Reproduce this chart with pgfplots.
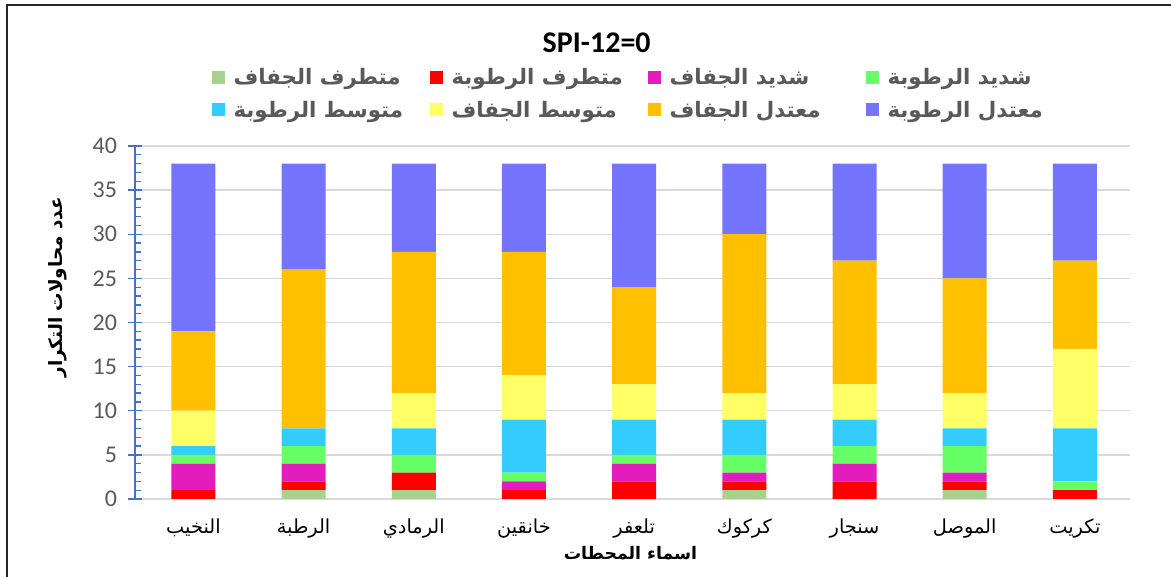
\documentclass[border=0pt]{standalone}
\usepackage{pgfplots}
\pgfplotsset{compat=1.18}
\usepackage{fontspec}
\setmainfont{Carlito}
\newfontfamily\arabicfont[Script=Arabic]{DejaVu Sans}
\TeXXeTstate=1
\newcommand\arb[1]{{\arabicfont\beginR #1\endR}}
\definecolor{cpaleg}{HTML}{A9D18E}
\definecolor{cred}{HTML}{FF0000}
\definecolor{cmag}{HTML}{E31CBE}
\definecolor{cgreen}{HTML}{66FF66}
\definecolor{ccyan}{HTML}{33CCFF}
\definecolor{cyellow}{HTML}{FFFF66}
\definecolor{corange}{HTML}{FFC000}
\definecolor{cpurple}{HTML}{7474FF}
\definecolor{axisblue}{HTML}{4472C4}
\definecolor{gridgray}{HTML}{D9D9D9}
\definecolor{tickgray}{HTML}{595959}
\newcommand\lgd[1]{\makebox[149.75pt][l]{\hspace*{4.5pt}\hbox{{\arabicfont\beginR #1\endR}}}}
\begin{document}
\begin{tikzpicture}
\path[use as bounding box] (0,0) rectangle (878.25pt,432.75pt);
\draw[line width=1.4pt, black!85] (5.25pt,-10pt) -- (5.25pt,429pt) -- (890pt,429pt);
\begin{axis}[
  at={(101.25pt,58.5pt)}, anchor=south west,
  scale only axis, width=746.25pt, height=264.75pt,
  ybar stacked, bar width=33pt,
  xmin=-0.53, xmax=8.5, ymin=0, ymax=40,
  xtick={0,...,8},
  xticklabels={\arb{النخيب},\arb{الرطبة},\arb{الرمادي},\arb{خانقين},\arb{تلعفر},\arb{كركوك},\arb{سنجار},\arb{الموصل},\arb{تكريت}},
  xticklabel style={font=\fontsize{14.5}{16}\selectfont, text=black, yshift=-11pt},
  x axis line style={draw=none},
  xtick style={draw=none},
  axis y line*=left,
  y axis line style={axisblue, line width=1.1pt},
  ytick={0,5,...,40},
  minor y tick num=4,
  tick align=inside,
  major tick length=4.5pt, minor tick length=4.5pt,
  ytick style={axisblue, line width=1pt},
  minor y tick style={axisblue, line width=1pt},
  extra y ticks={0,5,...,40},
  extra y tick labels={},
  extra y tick style={tick align=center, major tick length=10pt, grid=none},
  yticklabel style={font=\fontsize{18}{20}\selectfont, text=tickgray, xshift=-10pt},
  /pgf/number format/assume math mode=true,
  ymajorgrids, grid style={gridgray, line width=1.1pt},
  xlabel={{\arabicfont\bfseries\beginR اسماء المحطات\endR}},
  xlabel style={font=\fontsize{13}{15}\selectfont, at={(axis description cs:0.498,-0.153)}, anchor=center},
  ylabel={{\arabicfont\bfseries\beginR عدد محاولات التكرار\endR}},
  ylabel style={font=\fontsize{13.8}{15}\selectfont, at={(axis description cs:-0.078,0.6)}, anchor=center, rotate=0},
  title={\bfseries SPI-12=0},
  title style={font=\fontsize{22.5}{24}\selectfont, at={(axis description cs:0.464,1.27)}, anchor=center},
  legend columns=4,
  legend style={at={(axis description cs:0.073,1.235)}, anchor=north west, draw=none, fill=none,
    font=\fontsize{16}{18}\selectfont\bfseries, text=tickgray,
    /tikz/every even column/.append style={column sep=0pt},
    row sep=6.5pt},
  legend image code/.code={\fill[#1] (0pt,-4.9pt) rectangle (9.75pt,4.9pt);},
  every axis plot/.append style={draw=none},
]
\addplot+[fill=cpaleg] coordinates {(0,0) (1,1) (2,1) (3,0) (4,0) (5,1) (6,0) (7,1) (8,0)};
\addlegendentry{\lgd{متطرف الجفاف}}
\addplot+[fill=cred] coordinates {(0,1) (1,1) (2,2) (3,1) (4,2) (5,1) (6,2) (7,1) (8,1)};
\addlegendentry{\lgd{متطرف الرطوبة}}
\addplot+[fill=cmag] coordinates {(0,3) (1,2) (2,0) (3,1) (4,2) (5,1) (6,2) (7,1) (8,0)};
\addlegendentry{\lgd{شديد الجفاف}}
\addplot+[fill=cgreen] coordinates {(0,1) (1,2) (2,2) (3,1) (4,1) (5,2) (6,2) (7,3) (8,1)};
\addlegendentry{\lgd{شديد الرطوبة}}
\addplot+[fill=ccyan] coordinates {(0,1) (1,2) (2,3) (3,6) (4,4) (5,4) (6,3) (7,2) (8,6)};
\addlegendentry{\lgd{متوسط الرطوبة}}
\addplot+[fill=cyellow] coordinates {(0,4) (1,0) (2,4) (3,5) (4,4) (5,3) (6,4) (7,4) (8,9)};
\addlegendentry{\lgd{متوسط الجفاف}}
\addplot+[fill=corange] coordinates {(0,9) (1,18) (2,16) (3,14) (4,11) (5,18) (6,14) (7,13) (8,10)};
\addlegendentry{\lgd{معتدل الجفاف}}
\addplot+[fill=cpurple] coordinates {(0,19) (1,12) (2,10) (3,10) (4,14) (5,8) (6,11) (7,13) (8,11)};
\addlegendentry{\lgd{معتدل الرطوبة}}
\end{axis}
\end{tikzpicture}
\end{document}
